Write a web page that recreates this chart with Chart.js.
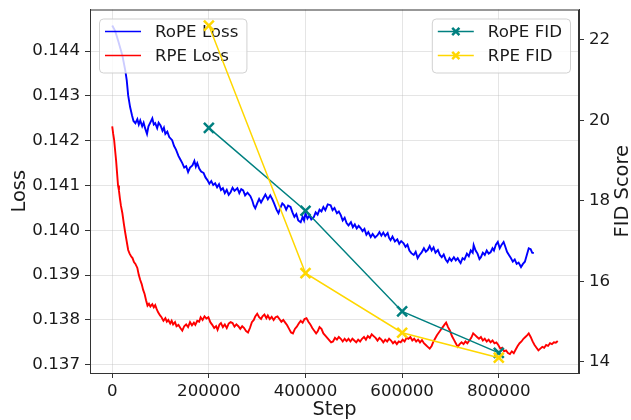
<!DOCTYPE html>
<html>
<head>
<meta charset="utf-8">
<script src="https://cdn.jsdelivr.net/npm/chart.js@4.4.1/dist/chart.umd.min.js"></script>
<style>
  html, body { margin: 0; padding: 0; background: #fff; }
  canvas { display: block; }
</style>
</head>
<body>
<canvas id="lossChart" width="631" height="420"></canvas>
<script>
// tick labels
const stepTicks = [0, 200000, 400000, 600000, 800000];
const lossTicks = [0.137, 0.138, 0.139, 0.140, 0.141, 0.142, 0.143, 0.144];
const fidTicks = [14, 16, 18, 20, 22];

// FID evaluations
const fidSteps = [200000, 400000, 600000, 800000];
const ropeFid = [19.81, 17.75, 15.25, 14.22];
const rpeFid = [22.35, 16.2, 14.72, 14.1];

// RoPE training loss
const ropeSteps = [
    0, 6000, 12000, 17000, 21000, 27000, 30000, 33000, 37000, 41000, 44000, 48000, 52000, 55000, 58000,
    62000, 65000, 68000, 72000, 75000, 79000, 83000, 86000, 89000, 93000, 96000, 100000, 104000, 107000,
    110000, 114000, 118000, 124000, 128000, 132000, 137000, 141000, 145000, 149000, 153000, 157000, 161000,
    166000, 170000, 173000, 176000, 180000, 184000, 189000, 193000, 197000, 201000, 205000, 209000, 213000,
    217000, 221000, 225000, 229000, 233000, 237000, 241000, 245000, 249000, 253000, 259000, 263000, 267000,
    271000, 275000, 280000, 286000, 290000, 293000, 296000, 300000, 304000, 308000, 313000, 317000, 322000,
    327000, 331000, 335000, 340000, 344000, 348000, 352000, 356000, 360000, 364000, 369000, 373000, 377000,
    381000, 385000, 390000, 394000, 397000, 400000, 404000, 408000, 412000, 417000, 421000, 425000, 429000,
    433000, 437000, 441000, 446000, 452000, 456000, 460000, 465000, 469000, 473000, 477000, 481000, 485000,
    489000, 494000, 498000, 502000, 506000, 510000, 514000, 518000, 522000, 526000, 530000, 535000, 539000,
    544000, 549000, 553000, 557000, 561000, 565000, 570000, 573000, 576000, 580000, 585000, 590000, 594000,
    598000, 603000, 607000, 611000, 615000, 619000, 624000, 628000, 632000, 636000, 640000, 645000, 649000,
    653000, 657000, 661000, 665000, 669000, 674000, 678000, 682000, 686000, 690000, 694000, 698000, 702000,
    707000, 711000, 715000, 719000, 721000, 725000, 729000, 734000, 738000, 742000, 746000, 748000, 752000,
    756000, 760000, 763000, 767000, 771000, 775000, 779000, 783000, 787000, 790000, 794000, 798000, 802000,
    806000, 810000, 813000, 817000, 821000, 825000, 829000, 833000, 837000, 841000, 846000, 850000, 854000,
    858000, 862000, 866000, 869000, 872500
];
const ropeLoss = [
    0.14457, 0.14445, 0.14424, 0.14405, 0.14390, 0.14357, 0.14335, 0.14301, 0.14275, 0.14256, 0.14244, 0.14239, 0.14248, 0.14236, 0.14245,
    0.14232, 0.14240, 0.14228, 0.14215, 0.14232, 0.14241, 0.14250, 0.14236, 0.14239, 0.14228, 0.14240, 0.14234, 0.14222, 0.14229,
    0.14215, 0.14220, 0.14208, 0.14201, 0.14188, 0.14180, 0.14166, 0.14158, 0.14150, 0.14140, 0.14143, 0.14130, 0.14140,
    0.14145, 0.14155, 0.14142, 0.14150, 0.14138, 0.14131, 0.14128, 0.14118, 0.14112, 0.14104, 0.14110, 0.14101, 0.14105,
    0.14096, 0.14103, 0.14090, 0.14094, 0.14083, 0.14090, 0.14079, 0.14085, 0.14095, 0.14088, 0.14094, 0.14083, 0.14092,
    0.14089, 0.14078, 0.14084, 0.14076, 0.14066, 0.14055, 0.14049, 0.14060, 0.14070, 0.14062, 0.14072, 0.14080, 0.14069,
    0.14078, 0.14070, 0.14060, 0.14046, 0.14038, 0.14050, 0.14060, 0.14056, 0.14046, 0.14055, 0.14052, 0.14040, 0.14030,
    0.14036, 0.14022, 0.14018, 0.14030, 0.14022, 0.14038, 0.14026, 0.14033, 0.14024, 0.14029, 0.14040, 0.14035, 0.14046,
    0.14042, 0.14052, 0.14045, 0.14058, 0.14056, 0.14045, 0.14050, 0.14038, 0.14042, 0.14034, 0.14022, 0.14028, 0.14016,
    0.14011, 0.14018, 0.14007, 0.14013, 0.14004, 0.14010, 0.14005, 0.13998, 0.14003, 0.13990, 0.13996, 0.13985, 0.13992,
    0.13984, 0.13989, 0.13996, 0.13988, 0.13995, 0.13987, 0.13994, 0.13983, 0.13978, 0.13986, 0.13975, 0.13980, 0.13970,
    0.13976, 0.13971, 0.13963, 0.13968, 0.13955, 0.13949, 0.13945, 0.13952, 0.13938, 0.13945, 0.13950, 0.13960, 0.13952,
    0.13956, 0.13965, 0.13955, 0.13962, 0.13950, 0.13956, 0.13945, 0.13940, 0.13946, 0.13935, 0.13929, 0.13938, 0.13932,
    0.13940, 0.13933, 0.13938, 0.13930, 0.13927, 0.13938, 0.13935, 0.13948, 0.13942, 0.13955, 0.13950, 0.13967, 0.13955,
    0.13948, 0.13936, 0.13940, 0.13950, 0.13945, 0.13955, 0.13948, 0.13951, 0.13960, 0.13955, 0.13968, 0.13974, 0.13960,
    0.13968, 0.13974, 0.13965, 0.13952, 0.13945, 0.13938, 0.13930, 0.13935, 0.13925, 0.13928, 0.13918, 0.13925, 0.13930,
    0.13945, 0.13960, 0.13958, 0.13950, 0.13949
];

// RPE training loss
const rpeSteps = [
    0, 2000, 4000, 6000, 8000, 10000, 12000, 14000, 16000, 18000, 21000, 24000, 27000, 30000, 33000, 36000,
    39000, 42000, 45000, 48000, 52000, 55000, 58000, 61000, 64000, 67000, 70000, 73000, 76000, 79000, 83000,
    86000, 89000, 92000, 95000, 99000, 102000, 106000, 110000, 113000, 116000, 120000, 123000, 126000, 130000,
    133000, 137000, 141000, 145000, 149000, 153000, 157000, 161000, 165000, 169000, 172000, 176000, 180000,
    183000, 187000, 191000, 195000, 199000, 203000, 207000, 211000, 215000, 218000, 222000, 225000, 229000,
    233000, 237000, 241000, 245000, 249000, 253000, 257000, 261000, 265000, 269000, 273000, 277000, 281000,
    285000, 289000, 293000, 296000, 300000, 304000, 308000, 311000, 315000, 319000, 322000, 326000, 330000,
    334000, 338000, 342000, 346000, 350000, 354000, 358000, 362000, 366000, 370000, 374000, 378000, 382000,
    386000, 390000, 394000, 398000, 402000, 406000, 410000, 414000, 418000, 422000, 425000, 429000, 433000,
    437000, 441000, 445000, 449000, 453000, 457000, 461000, 465000, 469000, 473000, 477000, 481000, 485000,
    489000, 493000, 497000, 501000, 505000, 509000, 513000, 517000, 521000, 525000, 529000, 533000, 537000,
    541000, 545000, 549000, 553000, 557000, 561000, 565000, 569000, 573000, 577000, 581000, 585000, 589000,
    593000, 597000, 601000, 605000, 609000, 613000, 617000, 621000, 625000, 629000, 633000, 637000, 641000,
    645000, 649000, 653000, 657000, 661000, 664000, 668000, 672000, 676000, 680000, 684000, 688000, 691000,
    695000, 699000, 703000, 707000, 711000, 715000, 719000, 723000, 727000, 731000, 735000, 739000, 743000,
    747000, 751000, 755000, 759000, 763000, 767000, 771000, 775000, 779000, 783000, 787000, 791000, 795000,
    799000, 803000, 807000, 811000, 815000, 819000, 823000, 827000, 831000, 835000, 839000, 843000, 847000,
    851000, 855000, 859000, 862000, 866000, 870000, 874000, 878000, 882000, 886000, 890000, 894000, 898000,
    902000, 906000, 910000, 914000, 918000, 922000
];
const rpeLoss = [
    0.14232, 0.14215, 0.14201, 0.14178, 0.14156, 0.14128, 0.14100, 0.14088, 0.14070, 0.14055, 0.14038, 0.14015, 0.13994, 0.13975, 0.13956, 0.13948,
    0.13942, 0.13938, 0.13929, 0.13925, 0.13916, 0.13900, 0.13889, 0.13880, 0.13867, 0.13858, 0.13844, 0.13832, 0.13836, 0.13830, 0.13835,
    0.13828, 0.13833, 0.13824, 0.13817, 0.13810, 0.13806, 0.13798, 0.13804, 0.13796, 0.13800, 0.13792, 0.13798, 0.13790, 0.13795,
    0.13786, 0.13789, 0.13782, 0.13776, 0.13786, 0.13790, 0.13784, 0.13795, 0.13788, 0.13794, 0.13789, 0.13798, 0.13796,
    0.13806, 0.13800, 0.13808, 0.13803, 0.13806, 0.13795, 0.13789, 0.13782, 0.13786, 0.13778, 0.13790, 0.13793, 0.13784,
    0.13790, 0.13782, 0.13792, 0.13795, 0.13793, 0.13785, 0.13790, 0.13786, 0.13780, 0.13786, 0.13782, 0.13775, 0.13772,
    0.13782, 0.13795, 0.13800, 0.13808, 0.13814, 0.13806, 0.13802, 0.13808, 0.13812, 0.13804, 0.13810, 0.13802, 0.13807,
    0.13800, 0.13806, 0.13808, 0.13802, 0.13796, 0.13800, 0.13794, 0.13788, 0.13780, 0.13772, 0.13770, 0.13780, 0.13785,
    0.13792, 0.13798, 0.13794, 0.13802, 0.13804, 0.13796, 0.13790, 0.13782, 0.13776, 0.13770, 0.13774, 0.13784, 0.13780,
    0.13770, 0.13765, 0.13760, 0.13755, 0.13750, 0.13752, 0.13760, 0.13756, 0.13762, 0.13758, 0.13752, 0.13758, 0.13753,
    0.13758, 0.13752, 0.13758, 0.13754, 0.13750, 0.13756, 0.13752, 0.13758, 0.13762, 0.13756, 0.13764, 0.13760, 0.13768,
    0.13764, 0.13760, 0.13754, 0.13760, 0.13756, 0.13750, 0.13756, 0.13752, 0.13758, 0.13754, 0.13748, 0.13752, 0.13746,
    0.13752, 0.13750, 0.13756, 0.13752, 0.13760, 0.13758, 0.13762, 0.13754, 0.13758, 0.13752, 0.13756, 0.13750, 0.13755,
    0.13748, 0.13744, 0.13740, 0.13736, 0.13742, 0.13750, 0.13758, 0.13766, 0.13772, 0.13778, 0.13784, 0.13790, 0.13794,
    0.13784, 0.13776, 0.13764, 0.13756, 0.13748, 0.13740, 0.13746, 0.13750, 0.13746, 0.13752, 0.13748, 0.13754, 0.13760,
    0.13770, 0.13766, 0.13762, 0.13758, 0.13762, 0.13754, 0.13758, 0.13752, 0.13756, 0.13750, 0.13754, 0.13748, 0.13750,
    0.13744, 0.13736, 0.13738, 0.13730, 0.13732, 0.13726, 0.13724, 0.13730, 0.13726, 0.13734, 0.13742, 0.13748, 0.13752,
    0.13758, 0.13762, 0.13766, 0.13770, 0.13762, 0.13752, 0.13744, 0.13738, 0.13732, 0.13736, 0.13740, 0.13738, 0.13744,
    0.13742, 0.13748, 0.13746, 0.13750, 0.13749, 0.13753
];

const FONT = "DejaVu Sans";
const TEXT = "#1a1a1a";
const FRAME = "#333333";

Chart.defaults.font.family = FONT;
Chart.defaults.color = TEXT;

function pairs(xs, ys) {
    return xs.map((x, i) => ({ x: x, y: ys[i] }));
}

function drawCross(ctx, x, y, r, color, width) {
    ctx.save();
    ctx.strokeStyle = color;
    ctx.lineWidth = width;
    ctx.beginPath();
    ctx.moveTo(x - r, y - r);
    ctx.lineTo(x + r, y + r);
    ctx.moveTo(x - r, y + r);
    ctx.lineTo(x + r, y - r);
    ctx.stroke();
    ctx.restore();
}

function drawLegend(ctx, x, y, items, alignRight) {
    ctx.save();
    ctx.font = "16.67px '" + FONT + "'";
    let textW = 0;
    items.forEach(it => { textW = Math.max(textW, ctx.measureText(it.label).width); });
    const w = 56 + textW + 8;
    const h = 54;
    const bx = alignRight ? x - w : x;

    ctx.beginPath();
    ctx.roundRect(bx + 0.5, y + 0.5, w, h, 4);
    ctx.fillStyle = "rgba(255,255,255,0.8)";
    ctx.fill();
    ctx.strokeStyle = "rgba(204,204,204,0.9)";
    ctx.lineWidth = 1;
    ctx.stroke();

    items.forEach((it, i) => {
        const ly = y + 13 + i * 24;
        ctx.strokeStyle = it.color;
        ctx.lineWidth = it.width;
        ctx.beginPath();
        ctx.moveTo(bx + 6, ly);
        ctx.lineTo(bx + 42, ly);
        ctx.stroke();
        if (it.marker) drawCross(ctx, bx + 24, ly, 3.6, it.color, 2.5);
        ctx.fillStyle = TEXT;
        ctx.textAlign = "left";
        ctx.textBaseline = "middle";
        ctx.fillText(it.label, bx + 56, ly + 1);
    });
    ctx.restore();
}

const plotDecor = {
    id: "plotDecor",
    afterDatasetDraw(chart, args) {
        // loss legend sits between the loss curves and the FID curves
        if (args.index !== 1) return;
        const a = chart.chartArea;
        drawLegend(chart.ctx, a.left + 9, a.top + 9, [
            { label: "RoPE Loss", color: "#0000ff", width: 1.6 },
            { label: "RPE Loss", color: "#ff0000", width: 1.6 }
        ], false);
    },
    afterDatasetsDraw(chart) {
        const ctx = chart.ctx;
        const a = chart.chartArea;
        drawLegend(ctx, a.right - 9, a.top + 9, [
            { label: "RoPE FID", color: "#008080", width: 1.5, marker: true },
            { label: "RPE FID", color: "#ffd700", width: 1.5, marker: true }
        ], true);

        ctx.save();
        ctx.strokeStyle = FRAME;
        ctx.lineWidth = 1;
        ctx.strokeRect(a.left + 0.5, a.top + 0.5, a.right - a.left - 1, a.bottom - a.top);
        ctx.restore();
    },
    afterDraw(chart) {
        const ctx = chart.ctx;
        const a = chart.chartArea;
        const midY = (a.top + a.bottom) / 2;
        ctx.save();
        ctx.fillStyle = TEXT;
        ctx.font = "19.4px '" + FONT + "'";
        ctx.textAlign = "center";
        ctx.textBaseline = "alphabetic";
        ctx.fillText("Step", (a.left + a.right) / 2, 415);

        ctx.save();
        ctx.translate(25, midY);
        ctx.rotate(-Math.PI / 2);
        ctx.fillText("Loss", 0, 0);
        ctx.restore();

        ctx.save();
        ctx.translate(628, midY);
        ctx.rotate(-Math.PI / 2);
        ctx.fillText("FID Score", 0, 0);
        ctx.restore();
        ctx.restore();
    }
};

function fixTicks(values) {
    return scale => { scale.ticks = values.map(v => ({ value: v })); };
}

function fitVertical(width) {
    return scale => {
        scale.width = width;
        scale.paddingTop = 0;
        scale.paddingBottom = 0;
    };
}

const gridDash = {
    color: "rgba(190,190,190,0.4)",
    lineWidth: 1,
    borderDash: [4, 2],
    drawTicks: true,
    tickLength: 5,
    tickColor: FRAME,
    tickWidth: 1,
    tickBorderDash: []
};

new Chart(document.getElementById("lossChart"), {
    type: "line",
    data: {
        datasets: [
            {
                label: "RoPE Loss",
                data: pairs(ropeSteps, ropeLoss),
                borderColor: "#0000ff",
                borderWidth: 1.9,
                pointRadius: 0,
                tension: 0,
                yAxisID: "y",
                order: 4
            },
            {
                label: "RPE Loss",
                data: pairs(rpeSteps, rpeLoss),
                borderColor: "#ff0000",
                borderWidth: 1.9,
                pointRadius: 0,
                tension: 0,
                yAxisID: "y",
                order: 3
            },
            {
                label: "RoPE FID",
                data: pairs(fidSteps, ropeFid),
                borderColor: "#008080",
                backgroundColor: "#008080",
                borderWidth: 1.5,
                pointStyle: "crossRot",
                pointRadius: 7,
                pointBorderWidth: 2.5,
                tension: 0,
                yAxisID: "y2",
                order: 2
            },
            {
                label: "RPE FID",
                data: pairs(fidSteps, rpeFid),
                borderColor: "#ffd700",
                backgroundColor: "#ffd700",
                borderWidth: 1.5,
                pointStyle: "crossRot",
                pointRadius: 7,
                pointBorderWidth: 2.5,
                tension: 0,
                yAxisID: "y2",
                order: 1
            }
        ]
    },
    options: {
        responsive: false,
        animation: false,
        devicePixelRatio: 1,
        layout: { padding: { top: 9, left: 0, right: 0, bottom: 0 } },
        plugins: {
            legend: { display: false },
            tooltip: { enabled: false }
        },
        scales: {
            x: {
                type: "linear",
                min: -46000,
                max: 966000,
                afterBuildTicks: fixTicks(stepTicks),
                afterFit: scale => {
                    scale.height = 47;
                    scale.paddingLeft = 0;
                    scale.paddingRight = 0;
                },
                grid: gridDash,
                border: { display: true, color: FRAME, width: 1 },
                ticks: {
                    font: { size: 16.67 },
                    color: TEXT,
                    padding: 4,
                    maxRotation: 0,
                    autoSkip: false,
                    callback: v => String(v)
                }
            },
            y: {
                position: "left",
                min: 0.136816,
                max: 0.144927,
                afterBuildTicks: fixTicks(lossTicks),
                afterFit: fitVertical(90),
                grid: gridDash,
                border: { display: true, color: FRAME, width: 1 },
                ticks: {
                    font: { size: 16.67 },
                    color: TEXT,
                    padding: 5,
                    autoSkip: false,
                    callback: v => v.toFixed(3)
                }
            },
            y2: {
                position: "right",
                min: 13.72,
                max: 22.75,
                afterBuildTicks: fixTicks(fidTicks),
                afterFit: fitVertical(52),
                grid: {
                    drawOnChartArea: false,
                    drawTicks: true,
                    tickLength: 5,
                    tickColor: FRAME,
                    tickWidth: 1
                },
                border: { display: true, color: FRAME, width: 1 },
                ticks: {
                    font: { size: 16.67 },
                    color: TEXT,
                    padding: 5,
                    autoSkip: false,
                    callback: v => String(v)
                }
            }
        }
    },
    plugins: [plotDecor]
});
</script>
</body>
</html>
